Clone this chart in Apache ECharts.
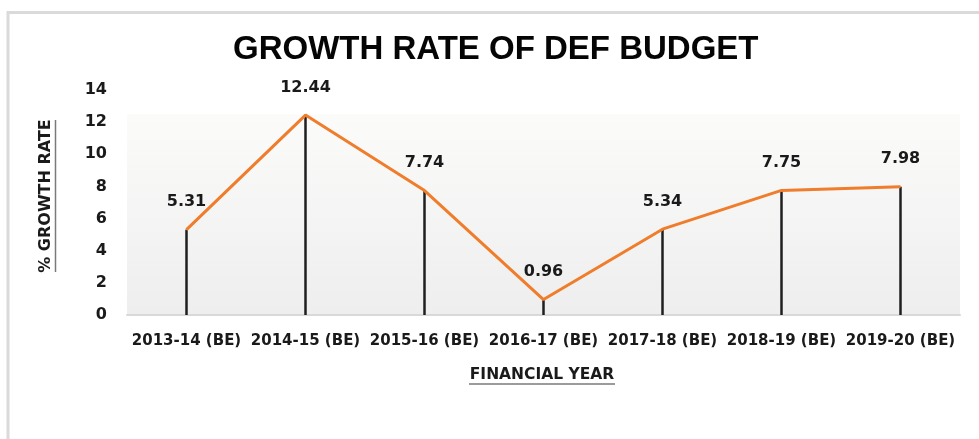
<!DOCTYPE html>
<html>
<head>
<meta charset="utf-8">
<script src="https://cdn.jsdelivr.net/npm/echarts@6/dist/echarts.min.js"></script>
<style>
  html, body { margin: 0; padding: 0; background: #ffffff; }
  #chart { width: 979px; height: 439px; }
</style>
</head>
<body>
<div id="chart"></div>
<script>
// Financial years (budget estimates)
const years = ['2013-14 (BE)', '2014-15 (BE)', '2015-16 (BE)', '2016-17 (BE)', '2017-18 (BE)', '2018-19 (BE)', '2019-20 (BE)'];
// Year-on-year growth of the defence budget, %
const growth = [5.31, 12.44, 7.74, 0.96, 5.34, 7.75, 7.98];
// Value axis range and step
const yMin = 0;
const yMax = 14;
const yStep = 2;

const labelFont = 'DejaVu Sans';
const chart = echarts.init(document.getElementById('chart'), null, { renderer: 'canvas' });

chart.setOption({
  backgroundColor: '#ffffff',
  animation: false,
  title: {
    text: 'GROWTH RATE OF DEF BUDGET',
    left: 228,
    top: 28,
    padding: 5,
    textStyle: { fontFamily: 'Liberation Sans', fontWeight: 'bold', fontSize: 33, color: '#050505' }
  },
  grid: {
    left: 127, right: 19, top: 90, bottom: 124,
    show: true,
    borderWidth: 0,
    backgroundColor: {
      type: 'linear', x: 0, y: 0, x2: 0, y2: 1,
      colorStops: [
        { offset: 0, color: '#ffffff' },
        { offset: 0.105, color: '#ffffff' },
        { offset: 0.11, color: '#fbfbfa' },
        { offset: 1, color: '#eeeeee' }
      ]
    }
  },
  xAxis: {
    type: 'category',
    data: years,
    axisLine: { show: true, lineStyle: { color: '#d9d9d9', width: 2 } },
    axisTick: { show: false },
    axisLabel: { fontFamily: labelFont, fontWeight: 'bold', fontSize: 15, color: '#1a1a1a', margin: 19, interval: 0 }
  },
  yAxis: {
    type: 'value',
    min: yMin, max: yMax, interval: yStep,
    axisLine: { show: false },
    axisTick: { show: false },
    splitLine: { show: false },
    axisLabel: { fontFamily: labelFont, fontWeight: 'bold', fontSize: 16, color: '#1a1a1a', margin: 20 }
  },
  series: [
    {
      // vertical drop lines from each point to the axis
      type: 'bar',
      data: growth,
      barWidth: 2.5,
      itemStyle: { color: '#1f1f1f' },
      silent: true,
      z: 2
    },
    {
      type: 'line',
      data: growth,
      symbol: 'circle',
      symbolSize: 1,
      showSymbol: true,
      itemStyle: { color: '#ef7d2c' },
      lineStyle: { color: '#ef7d2c', width: 3 },
      z: 3,
      label: {
        show: true,
        position: 'top',
        distance: 19,
        fontFamily: labelFont,
        fontWeight: 'bold',
        fontSize: 16,
        color: '#1a1a1a'
      }
    }
  ],
  graphic: [
    {
      // outer chart frame
      type: 'rect',
      shape: { x: 8, y: 12.5, width: 1100, height: 600 },
      style: { fill: 'none', stroke: '#dadada', lineWidth: 3 },
      silent: true
    },
    {
      type: 'text',
      x: 46, y: 196,
      rotation: Math.PI / 2,
      style: {
        text: '% GROWTH RATE',
        fontFamily: labelFont, fontWeight: 'bold', fontSize: 16,
        fill: '#1a1a1a', align: 'center', verticalAlign: 'middle'
      }
    },
    {
      type: 'line',
      shape: { x1: 55.5, y1: 120, x2: 55.5, y2: 272 },
      style: { stroke: '#7a7a7a', lineWidth: 1.5 }
    },
    {
      type: 'text',
      x: 542, y: 375,
      style: {
        text: 'FINANCIAL YEAR',
        fontFamily: labelFont, fontWeight: 'bold', fontSize: 15.5,
        fill: '#1a1a1a', align: 'center', verticalAlign: 'middle'
      }
    },
    {
      type: 'line',
      shape: { x1: 469, y1: 384, x2: 615, y2: 384 },
      style: { stroke: '#7a7a7a', lineWidth: 1.5 }
    }
  ]
});
</script>
</body>
</html>
